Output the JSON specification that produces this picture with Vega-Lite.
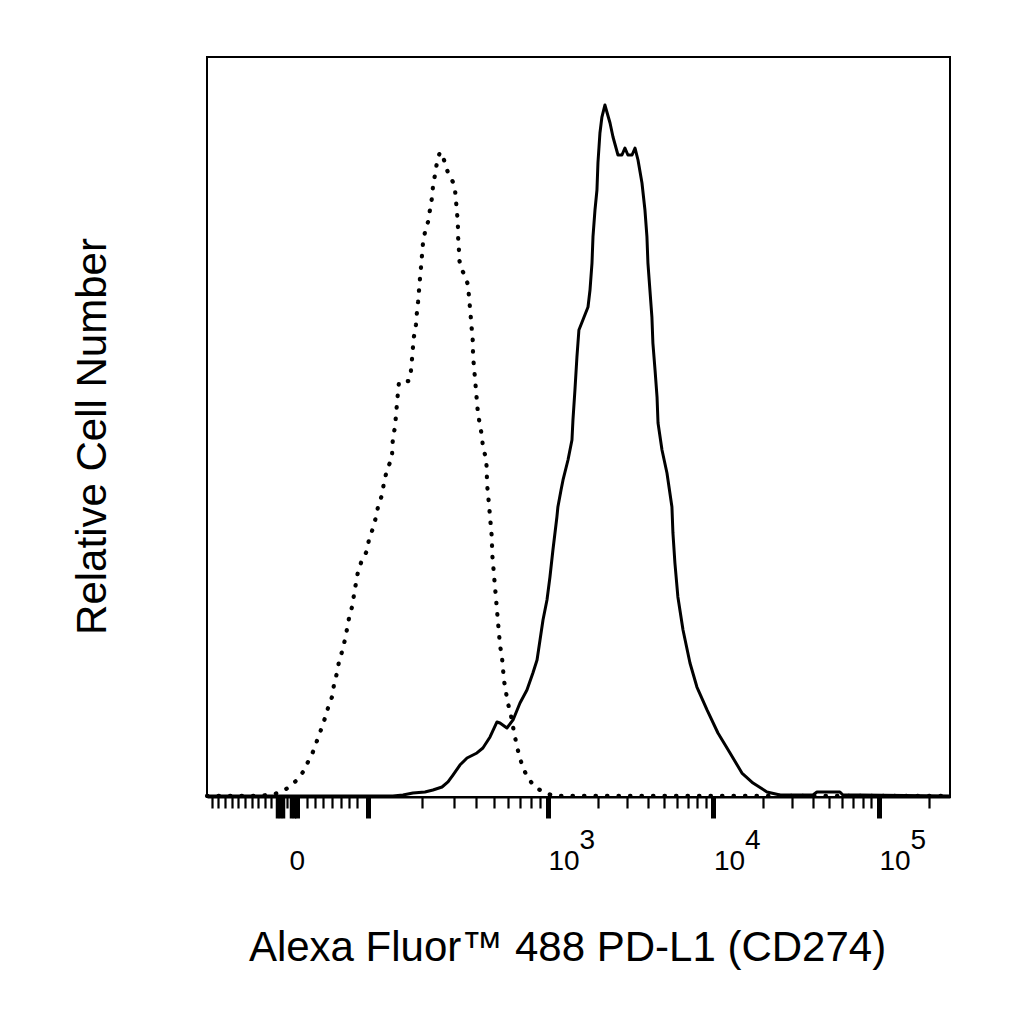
{
  "$schema": "https://vega.github.io/schema/vega-lite/v6.json",
  "width": 743,
  "height": 740,
  "autosize": "none",
  "padding": {"left": 207, "top": 57, "right": 74, "bottom": 227},
  "background": "white",
  "config": {
    "font": "Liberation Sans",
    "view": {"stroke": "black", "strokeWidth": 2}
  },
  "datasets": {
    "isotype": [
      {"position": 0.940, "count": 0.14}, {"position": 1.078, "count": 0.14}, {"position": 1.230, "count": 0.14},
      {"position": 1.308, "count": 0.27}, {"position": 1.369, "count": 0.54}, {"position": 1.429, "count": 1.22},
      {"position": 1.477, "count": 2.16}, {"position": 1.520, "count": 3.38}, {"position": 1.550, "count": 4.73},
      {"position": 1.580, "count": 6.08}, {"position": 1.604, "count": 7.57}, {"position": 1.628, "count": 9.05},
      {"position": 1.653, "count": 10.68}, {"position": 1.671, "count": 12.03}, {"position": 1.695, "count": 13.51},
      {"position": 1.707, "count": 15.14}, {"position": 1.725, "count": 16.76}, {"position": 1.737, "count": 18.24},
      {"position": 1.755, "count": 19.59}, {"position": 1.773, "count": 21.22}, {"position": 1.786, "count": 22.70},
      {"position": 1.798, "count": 24.19}, {"position": 1.816, "count": 25.68}, {"position": 1.828, "count": 27.30},
      {"position": 1.840, "count": 28.92}, {"position": 1.852, "count": 30.41}, {"position": 1.876, "count": 32.03},
      {"position": 1.906, "count": 33.24}, {"position": 1.918, "count": 34.73}, {"position": 1.943, "count": 36.35},
      {"position": 1.961, "count": 37.84}, {"position": 1.973, "count": 39.19}, {"position": 1.997, "count": 40.81},
      {"position": 2.009, "count": 42.43}, {"position": 2.027, "count": 44.19}, {"position": 2.057, "count": 45.81},
      {"position": 2.063, "count": 48.51}, {"position": 2.076, "count": 50.00}, {"position": 2.082, "count": 51.62},
      {"position": 2.088, "count": 53.24}, {"position": 2.094, "count": 54.73}, {"position": 2.100, "count": 56.08},
      {"position": 2.160, "count": 56.22}, {"position": 2.172, "count": 57.57}, {"position": 2.178, "count": 59.05},
      {"position": 2.184, "count": 60.68}, {"position": 2.190, "count": 62.16}, {"position": 2.202, "count": 63.78},
      {"position": 2.208, "count": 65.41}, {"position": 2.215, "count": 66.89}, {"position": 2.221, "count": 68.51},
      {"position": 2.227, "count": 70.14}, {"position": 2.233, "count": 71.62}, {"position": 2.239, "count": 73.24},
      {"position": 2.245, "count": 74.86}, {"position": 2.257, "count": 76.35}, {"position": 2.275, "count": 77.70},
      {"position": 2.287, "count": 79.32}, {"position": 2.299, "count": 80.95}, {"position": 2.305, "count": 82.43},
      {"position": 2.317, "count": 84.05}, {"position": 2.329, "count": 85.68}, {"position": 2.347, "count": 87.16},
      {"position": 2.372, "count": 86.08}, {"position": 2.390, "count": 84.73}, {"position": 2.408, "count": 83.78},
      {"position": 2.426, "count": 83.11}, {"position": 2.438, "count": 82.16}, {"position": 2.444, "count": 80.68},
      {"position": 2.450, "count": 79.05}, {"position": 2.456, "count": 77.57}, {"position": 2.456, "count": 75.95},
      {"position": 2.462, "count": 74.32}, {"position": 2.462, "count": 72.84}, {"position": 2.474, "count": 71.49},
      {"position": 2.499, "count": 70.41}, {"position": 2.517, "count": 69.19}, {"position": 2.523, "count": 67.57},
      {"position": 2.529, "count": 66.08}, {"position": 2.535, "count": 64.46}, {"position": 2.541, "count": 62.84},
      {"position": 2.547, "count": 61.35}, {"position": 2.547, "count": 59.73}, {"position": 2.553, "count": 58.11},
      {"position": 2.559, "count": 56.62}, {"position": 2.565, "count": 55.00}, {"position": 2.571, "count": 53.38},
      {"position": 2.577, "count": 51.89}, {"position": 2.589, "count": 50.27}, {"position": 2.601, "count": 48.78},
      {"position": 2.607, "count": 47.30}, {"position": 2.625, "count": 45.81}, {"position": 2.631, "count": 44.19},
      {"position": 2.631, "count": 42.57}, {"position": 2.637, "count": 41.08}, {"position": 2.644, "count": 39.46},
      {"position": 2.650, "count": 37.84}, {"position": 2.656, "count": 36.35}, {"position": 2.662, "count": 34.73},
      {"position": 2.662, "count": 33.11}, {"position": 2.668, "count": 31.62}, {"position": 2.674, "count": 30.00},
      {"position": 2.680, "count": 28.38}, {"position": 2.686, "count": 26.89}, {"position": 2.692, "count": 25.27},
      {"position": 2.698, "count": 23.65}, {"position": 2.704, "count": 22.16}, {"position": 2.710, "count": 20.54},
      {"position": 2.722, "count": 18.92}, {"position": 2.728, "count": 17.43}, {"position": 2.734, "count": 15.81},
      {"position": 2.746, "count": 14.19}, {"position": 2.758, "count": 12.70}, {"position": 2.776, "count": 11.08},
      {"position": 2.789, "count": 9.46}, {"position": 2.801, "count": 8.11}, {"position": 2.813, "count": 6.76},
      {"position": 2.831, "count": 5.27}, {"position": 2.849, "count": 3.92}, {"position": 2.879, "count": 2.57},
      {"position": 2.921, "count": 1.35}, {"position": 2.982, "count": 0.54}, {"position": 3.042, "count": 0.14},
      {"position": 3.314, "count": 0.14}, {"position": 3.918, "count": 0.14}, {"position": 4.523, "count": 0.14},
      {"position": 5.127, "count": 0.14}, {"position": 5.429, "count": 0.14}
    ],
    "pdl1": [
      {"position": 0.940, "count": 0.14}, {"position": 1.985, "count": 0.14}, {"position": 2.063, "count": 0.14},
      {"position": 2.124, "count": 0.27}, {"position": 2.184, "count": 0.54}, {"position": 2.257, "count": 0.68},
      {"position": 2.305, "count": 0.95}, {"position": 2.360, "count": 1.35}, {"position": 2.396, "count": 2.03},
      {"position": 2.426, "count": 2.97}, {"position": 2.468, "count": 4.32}, {"position": 2.511, "count": 5.27},
      {"position": 2.571, "count": 5.95}, {"position": 2.607, "count": 6.62}, {"position": 2.650, "count": 8.11},
      {"position": 2.692, "count": 10.14}, {"position": 2.710, "count": 10.00}, {"position": 2.752, "count": 9.32},
      {"position": 2.789, "count": 10.41}, {"position": 2.831, "count": 12.70}, {"position": 2.873, "count": 14.46},
      {"position": 2.909, "count": 16.76}, {"position": 2.934, "count": 18.51}, {"position": 2.952, "count": 21.22},
      {"position": 2.970, "count": 23.92}, {"position": 2.994, "count": 26.62}, {"position": 3.012, "count": 29.73},
      {"position": 3.030, "count": 33.38}, {"position": 3.054, "count": 37.84}, {"position": 3.060, "count": 39.19},
      {"position": 3.079, "count": 41.49}, {"position": 3.091, "count": 42.84}, {"position": 3.121, "count": 45.54},
      {"position": 3.145, "count": 48.24}, {"position": 3.151, "count": 50.95}, {"position": 3.163, "count": 55.00},
      {"position": 3.175, "count": 59.46}, {"position": 3.187, "count": 63.11}, {"position": 3.211, "count": 64.46},
      {"position": 3.242, "count": 66.22}, {"position": 3.254, "count": 68.51}, {"position": 3.266, "count": 72.16},
      {"position": 3.272, "count": 75.68}, {"position": 3.284, "count": 79.32}, {"position": 3.296, "count": 82.03},
      {"position": 3.302, "count": 85.68}, {"position": 3.314, "count": 89.73}, {"position": 3.326, "count": 91.89},
      {"position": 3.344, "count": 93.51}, {"position": 3.375, "count": 91.08}, {"position": 3.393, "count": 89.19},
      {"position": 3.423, "count": 86.76}, {"position": 3.447, "count": 86.76}, {"position": 3.465, "count": 87.70},
      {"position": 3.483, "count": 86.76}, {"position": 3.508, "count": 86.76}, {"position": 3.526, "count": 87.70},
      {"position": 3.544, "count": 86.08}, {"position": 3.568, "count": 82.97}, {"position": 3.586, "count": 79.32},
      {"position": 3.598, "count": 75.68}, {"position": 3.604, "count": 72.16}, {"position": 3.616, "count": 68.51},
      {"position": 3.628, "count": 64.86}, {"position": 3.634, "count": 61.35}, {"position": 3.647, "count": 57.70},
      {"position": 3.659, "count": 54.05}, {"position": 3.665, "count": 50.54}, {"position": 3.689, "count": 46.89},
      {"position": 3.719, "count": 43.78}, {"position": 3.749, "count": 39.19}, {"position": 3.755, "count": 35.68},
      {"position": 3.767, "count": 31.62}, {"position": 3.785, "count": 27.03}, {"position": 3.816, "count": 22.57},
      {"position": 3.858, "count": 18.11}, {"position": 3.900, "count": 14.86}, {"position": 3.961, "count": 11.76},
      {"position": 4.027, "count": 8.65}, {"position": 4.100, "count": 5.95}, {"position": 4.172, "count": 3.24},
      {"position": 4.239, "count": 1.89}, {"position": 4.323, "count": 0.68}, {"position": 4.402, "count": 0.27},
      {"position": 4.601, "count": 0.27}, {"position": 4.625, "count": 0.68}, {"position": 4.764, "count": 0.68},
      {"position": 4.782, "count": 0.27}, {"position": 4.885, "count": 0.27}, {"position": 5.429, "count": 0.14}
    ]
  },
  "encoding": {
    "x": {
      "field": "position",
      "type": "quantitative",
      "scale": {"domain": [0.94, 5.429], "nice": false, "zero": false},
      "axis": {
        "title": "Alexa Fluor™ 488 PD-L1 (CD274)",
        "titleFont": "Liberation Sans",
        "titleFontSize": 42,
        "titleFontWeight": "normal",
        "titleColor": "black",
        "titleX": 360,
        "titleY": 163,
        "titleAlign": "center",
        "titleBaseline": "alphabetic",
        "grid": false,
        "domain": true,
        "domainColor": "black",
        "domainWidth": 2,
        "values": [0.970, 1.006, 1.048, 1.091, 1.127, 1.169, 1.211, 1.248, 1.290, 1.326,
                   1.363, 1.381, 1.399, 1.423, 1.447, 1.465, 1.483,
                   1.544, 1.592, 1.640, 1.695, 1.749, 1.798, 1.846, 1.912,
                   2.240, 2.431, 2.567, 2.673, 2.759, 2.832, 2.895, 2.950, 3,
                   3.301, 3.477, 3.602, 3.699, 3.778, 3.845, 3.903, 3.954, 4,
                   4.301, 4.477, 4.602, 4.699, 4.778, 4.845, 4.903, 4.954, 5, 5.301],
        "tickColor": "black",
        "tickSize": {"condition": {"test": "indexof([1.363,1.381,1.399,1.447,1.465,1.483,1.912,3,4,5], datum.value) >= 0", "value": 21}, "value": 11},
        "tickWidth": {"condition": [
          {"test": "indexof([1.483,1.912,3,4,5], datum.value) >= 0", "value": 5},
          {"test": "indexof([1.363,1.381,1.399,1.447,1.465], datum.value) >= 0", "value": 3.5}
        ], "value": 2.2},
        "labelExpr": "datum.value == 1.483 ? ['\u200b\u00a0', '0'] : datum.value == 3 ? ['\u200b\u00a0\u00a0\u00a0\u00a0\u200b3', '10'] : datum.value == 4 ? ['\u200b\u00a0\u00a0\u00a0\u00a0\u200b4', '10'] : datum.value == 5 ? ['\u200b\u00a0\u00a0\u00a0\u00a0\u200b5', '10'] : ''",
        "labelAlign": {"condition": {"test": "datum.value == 1.483", "value": "center"}, "value": "left"},
        "labelBaseline": "top",
        "labelFont": "Liberation Sans",
        "labelFontSize": 28,
        "labelLineHeight": 21,
        "labelColor": "black",
        "labelPadding": 8,
        "labelOverlap": false,
        "labelFlush": false,
        "labelBound": false
      }
    },
    "y": {
      "field": "count",
      "type": "quantitative",
      "scale": {"domain": [0, 100], "nice": false},
      "axis": {
        "title": "Relative Cell Number",
        "titleFont": "Liberation Sans",
        "titleFontSize": 42,
        "titleFontWeight": "normal",
        "titleColor": "black",
        "titleX": -102,
        "titleY": 379,
        "titleAlign": "center",
        "titleBaseline": "alphabetic",
        "titleAngle": -90,
        "domain": false,
        "ticks": false,
        "labels": false,
        "grid": false
      }
    }
  },
  "layer": [
    {
      "data": {"name": "isotype"},
      "mark": {"type": "line", "color": "black", "strokeWidth": 4.2, "strokeCap": "round", "strokeDash": [0.5, 11], "interpolate": "linear"},
      "encoding": {"order": {"value": null}}
    },
    {
      "data": {"name": "pdl1"},
      "mark": {"type": "line", "color": "black", "strokeWidth": 3, "strokeJoin": "round", "interpolate": "linear"},
      "encoding": {"order": {"value": null}}
    }
  ]
}
